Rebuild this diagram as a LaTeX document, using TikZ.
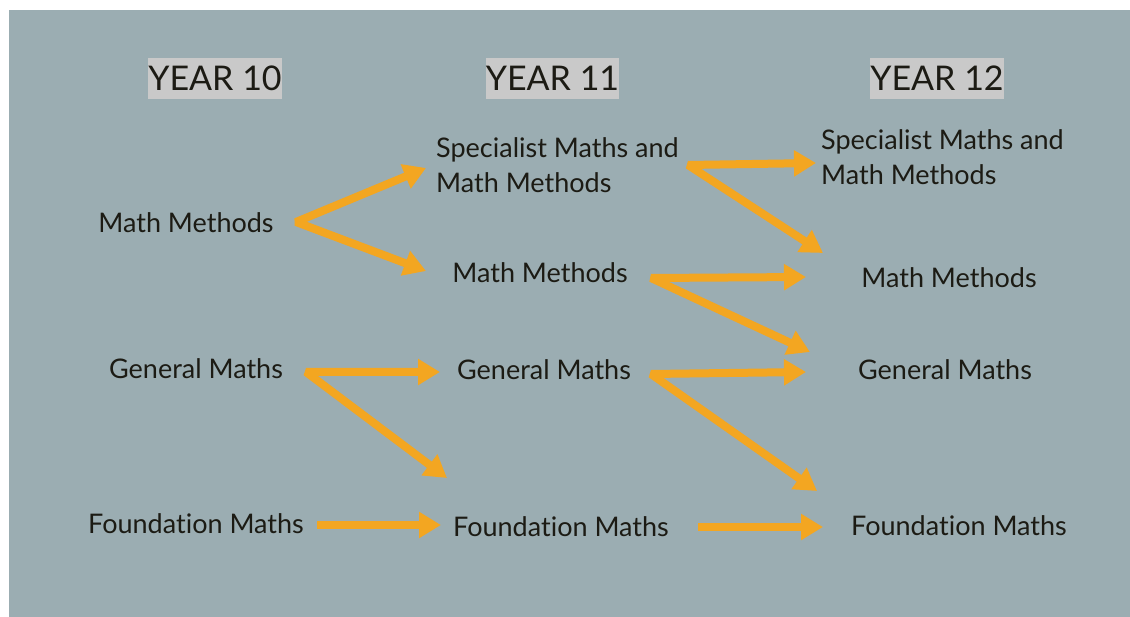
\documentclass[tikz,border=0pt]{standalone}
\usepackage{fontspec}
\setmainfont{Lato}[Ligatures={NoCommon}]
\usetikzlibrary{arrows.meta}
\definecolor{bgc}{RGB}{155,173,178}
\definecolor{hdc}{RGB}{201,201,201}
\definecolor{orc}{RGB}{243,166,33}
\definecolor{txc}{RGB}{28,27,20}
\tikzset{
  hdr/.style={fill=hdc, text=txc, font=\fontsize{34}{40}\selectfont, minimum width=132pt, minimum height=41pt, inner sep=0pt},
  lbl/.style={text=txc, font=\fontsize{27}{35}\selectfont, inner sep=0pt, anchor=base},
  lblm/.style={text=txc, font=\fontsize{27}{35}\selectfont, inner sep=0pt, align=left, anchor=north west},
  arr/.style={draw=orc, line width=8pt, line join=bevel, -{Triangle[length=22pt,width=25pt]}},
  arrb/.style={draw=orc, line width=8pt, line join=bevel, {Triangle[length=22pt,width=25pt]}-{Triangle[length=22pt,width=25pt]}}
}
\begin{document}
\begin{tikzpicture}[x=1pt,y={(0pt,-1pt)}]
\useasboundingbox (0,0) rectangle (1130,617);
\fill[white] (0,0) rectangle (1130,617);
\fill[bgc] (9,10) rectangle (1130,617);
% headers
\node[hdr] (h10) at (215,78.5) {YEAR 10};
\node[hdr] (h11) at (552.5,78.5) {YEAR 11};
\node[hdr] (h12) at (937,78.5) {YEAR 12};
% year 10
\node[lbl] (a1) at (186,233) {Math Methods};
\node[lbl] (a2) at (196,379) {General Maths};
\node[lbl] (a3) at (196,533) {Foundation Maths};
% year 11
\node[lblm] (b1) at (436,137) {Specialist Maths and\\Math Methods};
\node[lbl] (b2) at (540,283) {Math Methods};
\node[lbl] (b3) at (544,380) {General Maths};
\node[lbl] (b4) at (561,536) {Foundation Maths};
% year 12
\node[lblm] (c1) at (821,129) {Specialist Maths and\\Math Methods};
\node[lbl] (c2) at (949,288) {Math Methods};
\node[lbl] (c3) at (945,380) {General Maths};
\node[lbl] (c4) at (959,535) {Foundation Maths};
% arrow coordinates
\coordinate (s1) at (296,222);
\coordinate (t1) at (426,168);
\coordinate (t2) at (426,271);
\coordinate (s3) at (306,372);
\coordinate (t3) at (440,372);
\coordinate (t4) at (447,478);
\coordinate (s5) at (317,525);
\coordinate (t5) at (441,525);
\coordinate (s6) at (688,165);
\coordinate (t6) at (816,163);
\coordinate (t7) at (823,253);
\coordinate (s8) at (651,278);
\coordinate (t8) at (806,277);
\coordinate (t9) at (810,352);
\coordinate (s10) at (651,374);
\coordinate (t10) at (806,372);
\coordinate (t11) at (817,491);
\coordinate (s12) at (698,527);
\coordinate (t12) at (823,527);
% arrows
\draw[arrb] (t1) -- (s1) -- (t2);
\draw[arrb] (t3) -- (s3) -- (t4);
\draw[arr] (s5) -- (t5);
\draw[arrb] (t6) -- (s6) -- (t7);
\draw[arrb] (t8) -- (s8) -- (t9);
\draw[arrb] (t10) -- (s10) -- (t11);
\draw[arr] (s12) -- (t12);
\end{tikzpicture}
\end{document}
